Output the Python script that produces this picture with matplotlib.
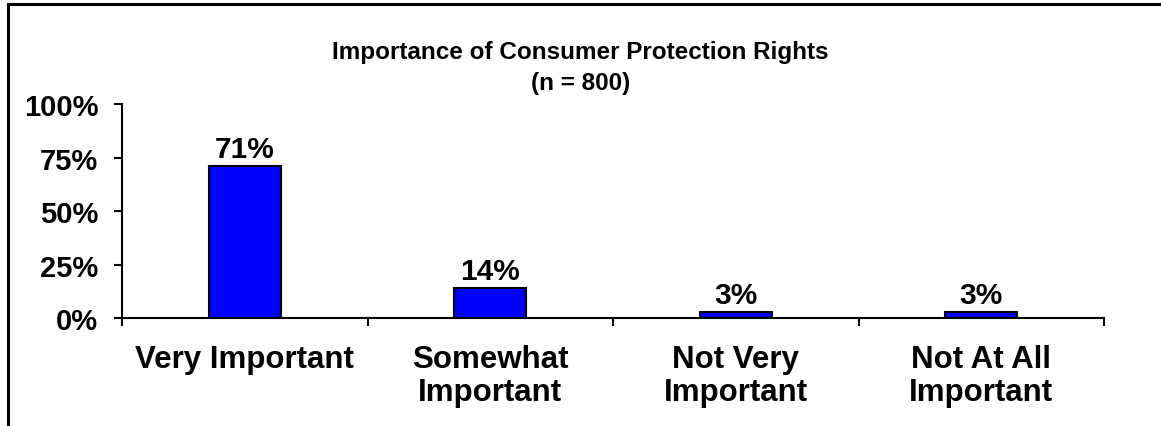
import numpy as np
import matplotlib.pyplot as plt
from matplotlib.lines import Line2D

plt.rcParams['font.family'] = ['Liberation Sans', 'DejaVu Sans']
plt.rcParams['font.weight'] = 'bold'

categories = ['Very Important', 'Somewhat\nImportant', 'Not Very\nImportant', 'Not At All\nImportant']
values = [71, 14, 3, 3]
yticks = [0, 25, 50, 75, 100]

fig = plt.figure(figsize=(11.61, 4.27), dpi=100)
ax = fig.add_axes([0.1051, 0.2529, 0.8458, 0.5012])

x = np.arange(len(categories))
bars = ax.bar(x, values, width=0.293, color='#0000FF', edgecolor='black', linewidth=1.5)
for b, v in zip(bars, values):
    ax.text(b.get_x() + b.get_width() / 2, v + 1.2, f'{v}%', ha='center', va='bottom',
            fontsize=21.5, fontweight='bold')

ax.set_xlim(-0.5, len(categories) - 0.5)
ax.set_ylim(0, 100)
ax.set_yticks(yticks)
ax.set_yticklabels([f'{t}%' for t in yticks], fontsize=21, fontweight='bold')
ax.set_xticks(x)
ax.set_xticklabels(categories, fontsize=22.5, fontweight='bold', va='top', linespacing=1.12)
ax.set_xticks(np.arange(len(categories) + 1) - 0.5, minor=True)
ax.tick_params(axis='x', which='major', length=0, pad=19)
ax.tick_params(axis='x', which='minor', length=6, width=1.5, direction='out')
ax.tick_params(axis='y', length=6, width=1.5, direction='out', pad=11)

for s in ['top', 'right']:
    ax.spines[s].set_visible(False)
for s in ['left', 'bottom']:
    ax.spines[s].set_linewidth(1.5)

fig.text(0.5, 0.876, 'Importance of Consumer Protection Rights', ha='center', va='center',
         fontsize=17.5, fontweight='bold')
fig.text(0.5, 0.805, '(n = 800)', ha='center', va='center', fontsize=17.5, fontweight='bold')

# outer frame (top and left edges)
fig.add_artist(Line2D([8 / 1161, 1.0], [1 - 5 / 427, 1 - 5 / 427], color='black', lw=2.2,
                      transform=fig.transFigure))
fig.add_artist(Line2D([8 / 1161, 8 / 1161], [0, 1 - 5 / 427], color='black', lw=2.2,
                      transform=fig.transFigure))

fig.savefig('out.png', dpi=100)
